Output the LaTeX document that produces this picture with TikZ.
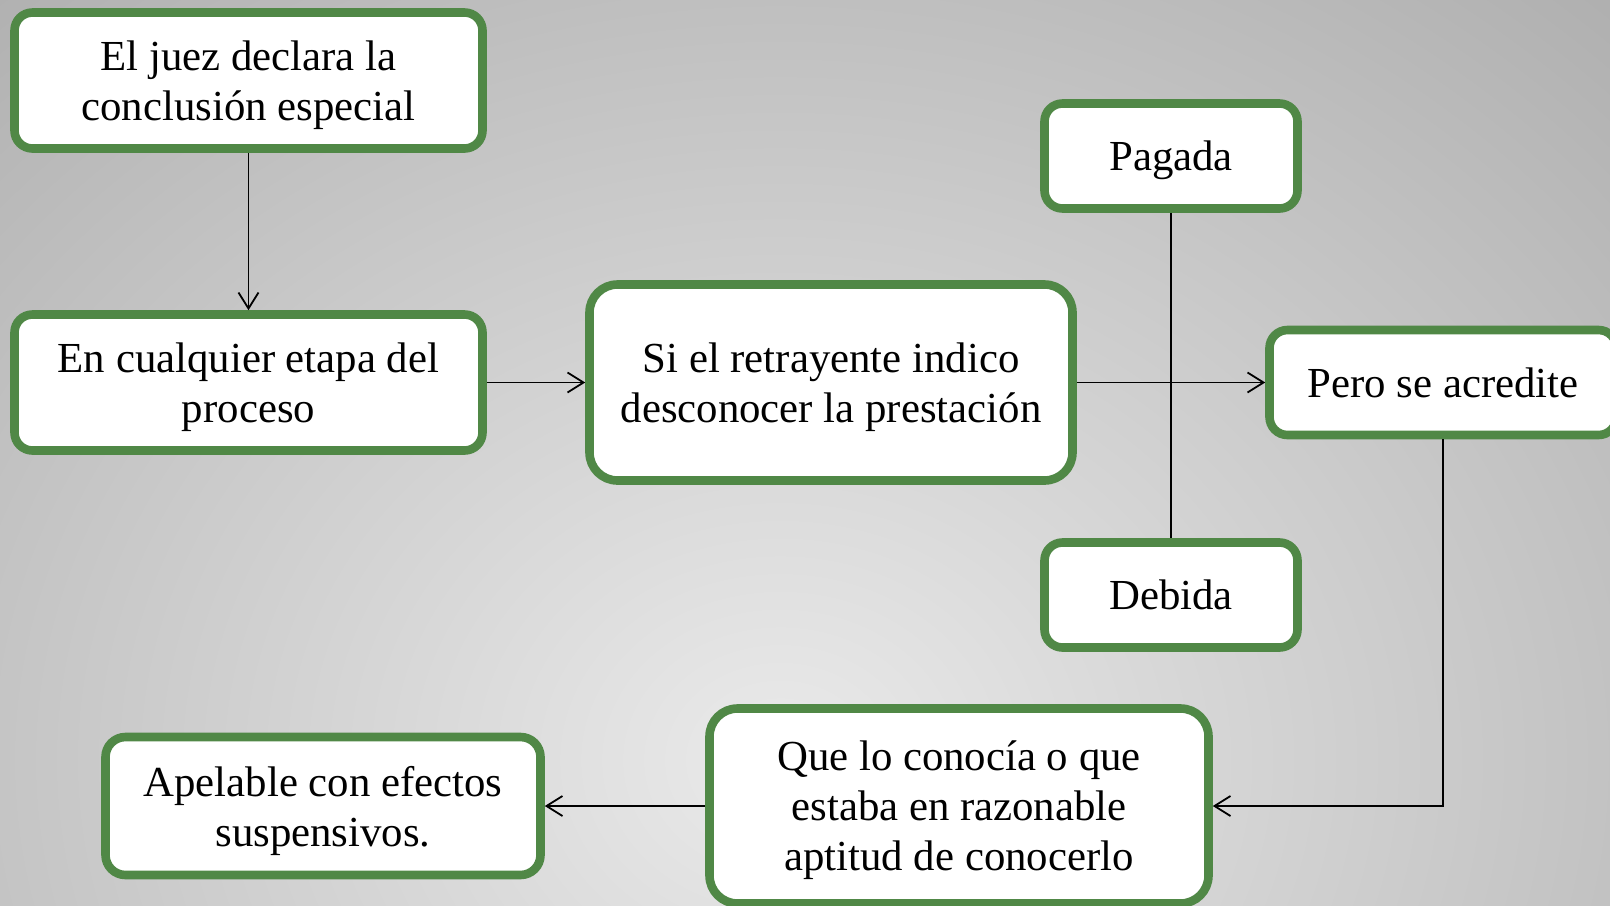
\documentclass[tikz,border=0pt]{standalone}
\usepackage{fontspec}
\setmainfont{Liberation Serif}
\usetikzlibrary{arrows.meta}
\definecolor{boxgreen}{RGB}{80,136,70}
\definecolor{bginner}{RGB}{234,234,234}
\definecolor{bgouter}{RGB}{172,172,172}
\begin{document}
\begin{tikzpicture}[x=0.5pt,y=-0.5pt,
  box/.style={draw=boxgreen, line width=4.3pt, fill=white, align=center,
    font=\fontsize{21.4pt}{25pt}\selectfont, inner sep=0pt, text depth=-5.8pt},
  conn/.style={draw=black, line width=0.9pt},
  arr/.style={conn, -{Straight Barb[length=8pt,width=10pt,line width=0.9pt]}}]
\clip (0,0) rectangle (1610,905);
\shade[inner color=bginner, outer color=bgouter] (-520,-340) rectangle (2080,1860);

\node[box, minimum width=234pt, minimum height=68pt, rounded corners=9pt] (juez) at (248.5,80.5) {El juez declara la\\conclusión especial};
\node[box, minimum width=234pt, minimum height=68pt, rounded corners=9pt] (etapa) at (248.5,382.5) {En cualquier etapa del\\proceso};
\node[box, minimum width=241.5pt, minimum height=98pt, rounded corners=14pt] (retra) at (831,382.5) {Si el retrayente indico\\desconocer la prestación};
\node[box, minimum width=126.5pt, minimum height=52.5pt, rounded corners=9pt] (pagada) at (1171,156) {Pagada};
\node[box, minimum width=126.5pt, minimum height=52.5pt, rounded corners=9pt] (debida) at (1171,595) {Debida};
\node[box, minimum width=173.5pt, minimum height=52.5pt, rounded corners=9pt] (pero) at (1443,382.5) {Pero se acredite};
\node[box, minimum width=249.5pt, minimum height=97.5pt, rounded corners=14pt] (que) at (959,806) {Que lo conocía o que\\estaba en razonable\\aptitud de conocerlo};
\node[box, minimum width=217.5pt, minimum height=69pt, rounded corners=10pt] (apel) at (323,806) {Apelable con efectos\\suspensivos.};

\draw[arr] (juez) -- (etapa);
\draw[arr] (etapa) -- (retra);
\draw[conn] (pagada) -- (debida);
\draw[arr] (retra) -- (pero);
\draw[arr] (pero.south) |- (que.east);
\draw[arr] (que) -- (apel);
\end{tikzpicture}
\end{document}
